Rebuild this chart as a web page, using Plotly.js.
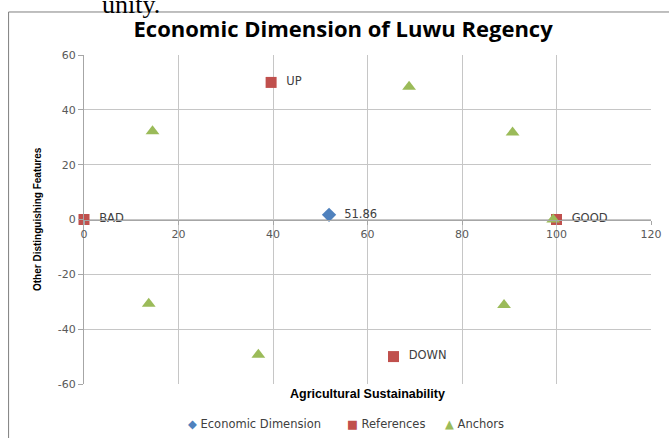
<!DOCTYPE html>
<html>
<head>
<meta charset="utf-8">
<script src="https://cdn.plot.ly/plotly-3.0.1.min.js"></script>
<style>html,body{margin:0;padding:0;background:#fff;}#chart{width:669px;height:438px;}</style>
</head>
<body>
<div id="chart"></div>
<script>
// Economic Dimension point
const econX = [51.86];
const econY = [1.7];
const econLabels = ["51.86"];

// Reference points
const refX = [0, 100, 39.6, 65.5];
const refY = [0, 0, 50, -50];
const refLabels = ["BAD", "GOOD", "UP", "DOWN"];

// Anchor points
const anchorX = [14.5, 68.8, 90.7, 99.3, 13.7, 36.9, 88.9];
const anchorY = [32.2, 48.4, 31.7, 0, -30.7, -49.3, -31.2];

const xTicks = [0, 20, 40, 60, 80, 100, 120];
const yTicks = [-60, -40, -20, 0, 20, 40, 60];

const seriesNames = ["Economic Dimension", "References", "Anchors"];
const seriesColors = ["#4f81bd", "#c0504d", "#9bbb59"];
const legendGlyphs = ["\u25C6", "\u25A0", "\u25B2"];

const sp = "\u00a0\u00a0";
const labelFont = {family: "DejaVu Sans, Verdana, sans-serif", size: 11.5, color: "#404040"};

const traces = [
  {
    name: seriesNames[0], type: "scatter", mode: "markers+text", cliponaxis: false,
    x: econX, y: econY, text: econLabels.map(t => sp + t), textposition: "middle right",
    textfont: labelFont,
    marker: {symbol: "diamond", size: 11, color: seriesColors[0]}
  },
  {
    name: seriesNames[1], type: "scatter", mode: "markers+text", cliponaxis: false,
    x: refX, y: refY, text: refLabels.map(t => sp + t), textposition: "middle right",
    textfont: labelFont,
    marker: {symbol: "square", size: 11, color: seriesColors[1]}
  },
  {
    name: seriesNames[2], type: "scatter", mode: "markers", cliponaxis: false,
    x: anchorX, y: anchorY,
    marker: {symbol: "triangle-up", size: 12, color: seriesColors[2]}
  }
];

const gridC = "#c6c6c6";
const tickFont = {family: "DejaVu Sans, Verdana, sans-serif", size: 11, color: "#595959"};

// legend built from series names / colours
const legendX = [0.1806, 0.4608, 0.6334];
const legendAnn = seriesNames.map((n, i) => ({
  text: "<span style='color:" + seriesColors[i] + "'>" + legendGlyphs[i] + "</span> " + n,
  xref: "paper", yref: "paper", x: legendX[i], y: -0.1216,
  xanchor: "left", yanchor: "middle", showarrow: false,
  font: {family: "DejaVu Sans, Verdana, sans-serif", size: 11.5, color: "#404040"}
}));

const layout = {
  width: 669, height: 438,
  margin: {l: 83.5, r: 18, t: 55, b: 54, autoexpand: false},
  paper_bgcolor: "#ffffff", plot_bgcolor: "#ffffff",
  showlegend: false,
  title: {
    text: "<b>Economic Dimension of Luwu Regency</b>",
    font: {family: "Open Sans, sans-serif", size: 22, color: "#000000"},
    x: 0.457, xref: "paper", xanchor: "center", y: 0.932, yref: "container", yanchor: "middle"
  },
  xaxis: {
    range: [0, 120], tickvals: xTicks, ticktext: xTicks.map(String),
    showgrid: true, gridcolor: gridC, gridwidth: 1,
    zeroline: false, showline: true, linecolor: "#a6a6a6", linewidth: 1,
    anchor: "free", position: 0.5, side: "bottom",
    ticks: "outside", ticklen: 4, tickcolor: "#a6a6a6", ticklabelstandoff: 0,
    tickfont: tickFont, fixedrange: true
  },
  yaxis: {
    range: [-60, 60], tickvals: yTicks, ticktext: yTicks.map(String),
    showgrid: true, gridcolor: gridC, gridwidth: 1,
    zeroline: false, showline: true, linecolor: "#a6a6a6", linewidth: 1,
    ticks: "outside", ticklen: 5, tickcolor: "#a6a6a6",
    tickfont: tickFont, fixedrange: true
  },
  annotations: [
    {text: "<b>Agricultural Sustainability</b>", xref: "paper", yref: "paper",
     x: 0.5, y: -0.0304, xanchor: "center", yanchor: "middle", showarrow: false,
     font: {family: "Liberation Sans, Arial, sans-serif", size: 12.5, color: "#000"}},
    {text: "<b>Other Distinguishing Features</b>", xref: "paper", yref: "paper",
     x: -0.082, y: 0.5, xanchor: "center", yanchor: "middle", showarrow: false, textangle: -90,
     font: {family: "Liberation Sans, Arial, sans-serif", size: 10, color: "#000"}},
    {text: "unity.", xref: "paper", yref: "paper",
     x: 0.029, y: 1.154, xanchor: "left", yanchor: "middle", showarrow: false,
     font: {family: "Liberation Serif, Times New Roman, serif", size: 26, color: "#000"}}
  ].concat(legendAnn),
  shapes: [
    {type: "line", xref: "paper", yref: "paper", x0: -0.133, x1: -0.133, y0: 1.1307, y1: -0.17,
     line: {color: "#7f7f7f", width: 1}},
    {type: "line", xref: "paper", yref: "paper", x0: -0.133, x1: 1.04, y0: 1.1307, y1: 1.1307,
     line: {color: "#7f7f7f", width: 1}}
  ]
};

Plotly.newPlot("chart", traces, layout, {displayModeBar: false, staticPlot: true});
</script>
</body>
</html>
